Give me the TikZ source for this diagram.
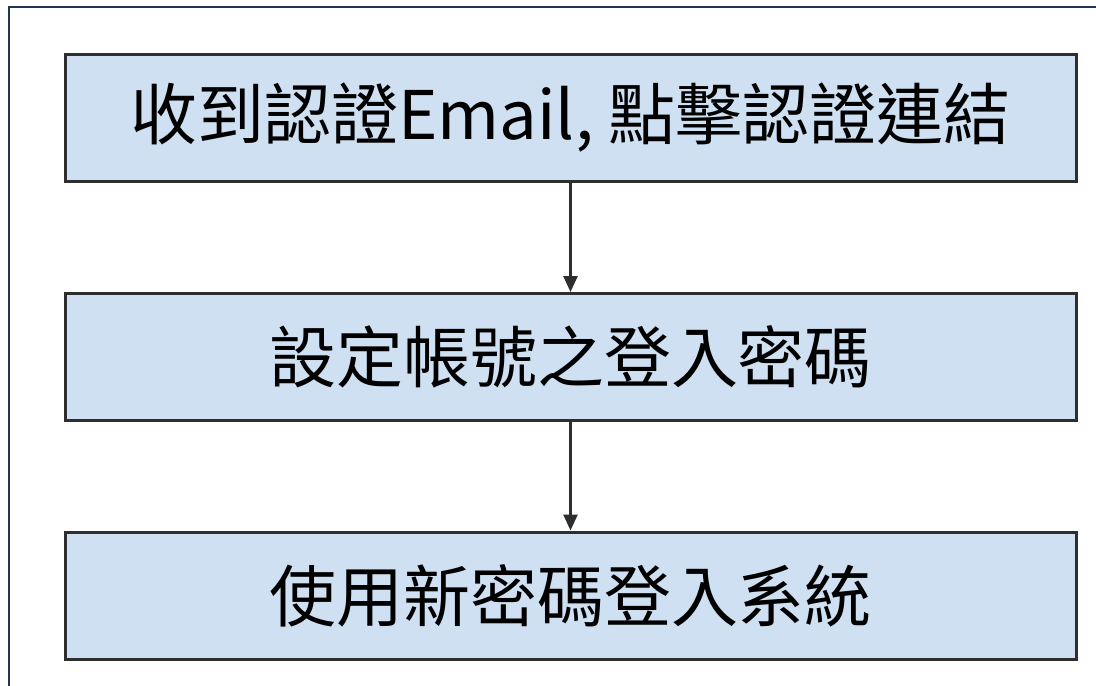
\documentclass[tikz,border=0pt]{standalone}
\usepackage{fontspec}
\setmainfont{Noto Sans CJK TC}
\usetikzlibrary{arrows.meta}

\definecolor{boxblue}{HTML}{CFE0F2}
\definecolor{boxline}{HTML}{2E2E2E}
\definecolor{framenavy}{HTML}{1F3550}

\tikzset{
  stepbox/.style={draw=boxline, line width=3pt, fill=boxblue,
    minimum width=1011pt, minimum height=127pt, inner sep=0pt,
    font=\fontsize{67}{67}\selectfont},
  flowarrow/.style={draw=boxline, line width=2.6pt,
    -{Triangle[length=16pt,width=14pt]}}
}

\begin{document}
\begin{tikzpicture}[x=1pt,y=-1pt]

  % Fix the page size
  \useasboundingbox (0,0) rectangle (1096,686);

  % Draw the outer frame (left and top edges)
  \draw[framenavy, line width=2.5pt] (9,686) -- (9,7) -- (1096,7);

  % The three steps
  \node[stepbox] (recv) at (570.5,117.5) {收到認證Email, 點擊認證連結};
  \node[stepbox] (setpw) at (570.5,357) {設定帳號之登入密碼};
  \node[stepbox] (login) at (570.5,595.5) {使用新密碼登入系統};

  % Arrows between the steps
  \draw[flowarrow] (recv) -- (setpw);
  \draw[flowarrow] (setpw) -- (login);

\end{tikzpicture}
\end{document}
